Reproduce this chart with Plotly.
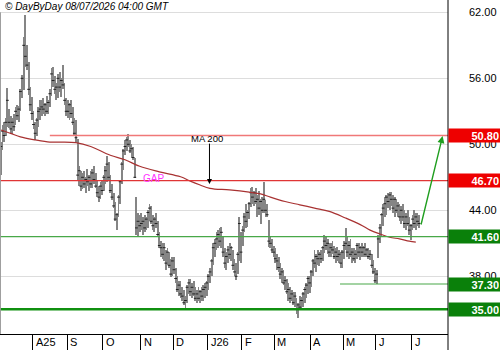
import plotly.graph_objects as go

# ---------------- data ----------------
month_labels = ["A25", "S", "O", "N", "D", "J26", "F", "M", "A", "M", "J", "J"]
# trading days shown per month: Jul-25 (partial), Aug ... Jun-26, Jul-26 (partial)
month_days = [20, 21, 22, 23, 20, 21, 21, 20, 22, 20, 20, 22, 5]

highs = [
    # Jul 25
    50.2, 51.8, 52.0, 52.4, 55.1, 53.2, 52.6, 52.4, 52.8, 53.4, 53.6, 53.5, 55.0, 56.3, 59.8, 61.8, 59.0, 57.5, 55.2, 54.3,
    # Aug
    53.0, 52.0, 52.4, 53.4, 54.0, 54.0, 54.2, 53.8, 54.4, 54.0, 55.0, 56.9, 57.0, 56.2, 55.6, 56.4, 56.6, 56.0, 57.2, 55.6, 54.2,
    # Sep
    54.0, 53.8, 54.0, 53.4, 52.4, 52.2, 50.5, 48.0, 47.6, 47.4, 47.6, 47.0, 47.8, 47.2, 47.6, 47.8, 48.0, 47.4, 46.8, 46.2, 46.6, 46.8,
    # Oct
    47.2, 48.0, 48.9, 48.4, 47.2, 46.4, 45.6, 44.8, 43.8, 45.4, 46.8, 48.4, 49.6, 50.4, 50.7, 50.9, 50.4, 50.0, 49.8, 48.8, 45.2, 43.8, 43.6,
    # Nov
    43.8, 43.4, 43.6, 43.4, 44.0, 44.6, 44.4, 43.6, 43.4, 43.8, 43.0, 42.0, 41.2, 41.0, 41.0, 40.4, 40.6, 40.2, 39.6, 39.8,
    # Dec
    39.8, 38.8, 38.0, 37.6, 37.6, 37.0, 36.8, 36.2, 37.2, 37.8, 37.8, 37.4, 37.6, 37.0, 36.8, 37.0, 36.8, 37.0, 37.2, 37.4, 37.6,
    # Jan 26
    38.2, 38.8, 39.6, 41.0, 41.4, 42.0, 42.2, 42.4, 42.5, 41.6, 40.6, 40.2, 40.8, 41.0, 40.8, 40.4, 39.6, 39.2, 40.2, 43.4, 42.0,
    # Feb
    42.6, 43.8, 44.6, 44.0, 44.8, 46.0, 46.1, 45.8, 46.0, 45.4, 45.8, 45.0, 45.2, 46.6, 44.9, 44.6, 43.1, 41.6, 41.4, 40.8,
    # Mar
    40.6, 40.0, 39.8, 39.2, 38.8, 38.6, 38.0, 37.8, 37.4, 37.0, 36.8, 36.6, 36.6, 36.0, 35.6, 36.2, 36.1, 36.6, 37.0, 37.4, 38.0, 38.0,
    # Apr
    38.6, 39.6, 40.4, 40.0, 40.4, 40.2, 40.4, 40.8, 41.8, 41.6, 41.4, 41.0, 41.0, 41.2, 40.8, 40.6, 40.7, 40.4, 40.2, 40.4,
    # May
    41.2, 42.4, 41.6, 41.2, 41.4, 40.6, 40.6, 40.4, 41.0, 41.0, 40.8, 41.0, 40.8, 41.0, 40.6, 40.6, 40.4, 40.0, 39.5, 38.8,
    # Jun
    38.6, 41.8, 42.8, 43.8, 44.6, 45.2, 45.4, 45.6, 45.7, 45.7, 45.4, 45.2, 45.0, 44.8, 44.6, 44.4, 44.6, 44.0, 43.8, 44.0, 43.4, 42.8,
    # Jul 26
    43.6, 44.0, 43.8, 43.8, 43.6,
]

lows = [
    47.2, 49.5, 50.2, 50.8, 51.6, 51.5, 51.0, 50.9, 51.2, 51.8, 52.2, 52.0, 53.0, 54.2, 54.9, 57.0, 56.8, 54.5, 53.0, 52.2,
    51.4, 50.4, 50.8, 51.6, 52.2, 52.6, 52.8, 52.6, 52.8, 52.8, 53.4, 54.4, 55.2, 54.6, 54.0, 54.2, 54.8, 54.3, 55.0, 53.6, 52.6,
    52.4, 52.2, 52.4, 51.8, 50.8, 50.2, 46.8, 46.2, 45.8, 45.9, 46.0, 45.6, 46.2, 45.8, 46.0, 46.0, 46.4, 46.0, 45.2, 44.8, 45.0, 45.4,
    45.8, 46.4, 46.6, 46.8, 45.6, 44.9, 44.2, 43.0, 42.2, 43.4, 44.6, 46.4, 47.7, 49.0, 49.4, 49.8, 49.2, 48.8, 48.6, 46.9, 41.8, 41.6, 42.0,
    42.2, 41.8, 42.0, 42.2, 42.4, 43.0, 42.8, 42.2, 42.0, 42.4, 41.6, 40.6, 39.8, 39.6, 39.4, 38.6, 39.0, 38.8, 37.9, 38.0,
    38.2, 37.4, 36.6, 36.2, 36.0, 35.8, 35.4, 35.0, 35.6, 36.4, 36.2, 36.0, 36.2, 35.8, 35.6, 35.8, 35.6, 35.8, 35.8, 36.0, 36.2,
    36.8, 37.4, 38.0, 39.0, 39.8, 40.4, 40.6, 40.8, 40.6, 39.8, 38.8, 38.6, 39.2, 39.6, 39.4, 38.6, 38.0, 37.7, 38.2, 39.4, 39.2,
    40.8, 42.0, 42.4, 42.5, 43.2, 44.3, 44.6, 44.4, 44.6, 43.4, 43.6, 42.8, 43.8, 43.8, 43.4, 43.4, 40.7, 40.6, 40.1, 39.8,
    39.2, 38.6, 38.4, 37.8, 37.4, 37.2, 36.8, 36.4, 35.8, 35.6, 35.8, 35.4, 35.2, 34.6, 34.2, 34.9, 35.0, 35.2, 35.6, 36.0, 36.4, 36.5,
    37.0, 38.0, 38.8, 38.4, 39.0, 38.9, 39.2, 39.4, 40.1, 40.4, 40.0, 39.8, 39.8, 40.0, 39.6, 39.2, 39.4, 39.2, 38.8, 38.8,
    39.6, 40.4, 39.8, 39.6, 39.8, 39.2, 39.4, 39.2, 39.6, 39.8, 39.5, 39.8, 39.8, 39.8, 39.8, 39.6, 39.5, 38.8, 38.2, 37.4,
    37.3, 39.7, 41.0, 41.6, 42.6, 43.4, 43.6, 44.2, 44.0, 44.4, 43.8, 43.4, 43.8, 43.4, 43.0, 42.8, 43.0, 42.4, 42.2, 42.6, 41.8, 41.3,
    42.2, 42.4, 42.2, 42.6, 42.4,
]

closes = [
    49.8, 51.2, 50.8, 52.0, 54.0, 52.0, 51.4, 52.0, 51.6, 53.0, 52.6, 53.2, 54.8, 56.0, 59.0, 58.0, 57.2, 55.0, 53.6, 52.8,
    51.8, 51.0, 52.2, 53.0, 53.2, 53.4, 53.2, 53.6, 53.0, 53.8, 54.6, 56.4, 55.8, 55.0, 55.2, 56.0, 55.2, 55.8, 55.4, 54.0, 53.0,
    53.0, 53.6, 52.8, 52.0, 51.0, 50.6, 47.2, 47.6, 46.2, 47.0, 46.4, 46.8, 46.6, 47.0, 46.4, 47.4, 46.8, 46.2, 45.6, 45.2, 46.2, 45.8,
    47.0, 47.6, 48.2, 47.0, 45.8, 45.2, 44.4, 43.2, 43.6, 45.2, 46.6, 48.2, 49.4, 49.8, 50.4, 50.0, 49.4, 49.6, 48.8, 47.0, 42.4, 43.0, 42.6,
    42.8, 43.0, 42.4, 43.2, 43.8, 44.2, 43.0, 42.6, 43.2, 42.8, 41.8, 40.8, 40.6, 40.0, 40.6, 39.2, 40.2, 39.0, 38.2, 39.4,
    38.6, 37.8, 36.8, 37.2, 36.4, 36.2, 35.6, 35.8, 37.0, 37.4, 36.6, 37.0, 36.4, 36.0, 36.4, 36.0, 36.6, 36.2, 36.8, 37.0, 37.4,
    38.0, 38.4, 39.4, 40.6, 41.0, 41.4, 41.8, 41.2, 42.0, 40.2, 39.2, 39.8, 40.4, 40.0, 40.6, 39.0, 38.4, 38.0, 40.0, 42.8, 40.2,
    42.2, 43.4, 43.0, 43.8, 44.6, 45.6, 45.2, 45.6, 44.8, 45.0, 44.2, 44.8, 44.0, 45.0, 44.0, 43.6, 41.2, 41.0, 40.4, 40.2,
    39.6, 39.4, 38.8, 38.2, 38.4, 37.4, 37.6, 36.6, 36.8, 36.0, 36.4, 35.6, 36.2, 35.0, 35.4, 35.2, 35.8, 36.4, 36.8, 37.2, 37.8, 37.4,
    38.4, 39.4, 39.2, 39.8, 39.6, 40.0, 39.6, 40.6, 41.2, 40.8, 41.0, 40.2, 40.6, 40.4, 39.8, 40.2, 39.8, 40.0, 39.2, 40.2,
    40.8, 41.0, 40.2, 40.8, 40.0, 40.2, 39.6, 40.0, 40.8, 40.2, 40.6, 40.2, 40.6, 40.0, 40.4, 39.8, 40.0, 39.0, 38.4, 37.6,
    38.2, 41.4, 42.4, 43.6, 44.2, 44.6, 45.2, 44.8, 45.4, 45.0, 44.2, 45.0, 44.0, 44.4, 43.4, 44.0, 43.4, 42.8, 43.4, 42.8, 42.2, 42.6,
    43.2, 42.8, 43.4, 43.0, 42.8,
]

# 200-day moving average (trading-day index, value)
ma_idx = [0, 6, 12, 21, 30, 36, 46, 55, 67, 76, 85, 97, 110, 116, 122, 128, 140, 152, 159, 165,
          174, 183, 192, 201, 211, 220, 226, 232, 238, 244, 250, 254]
ma_vals = [51.3, 51.0, 50.67, 50.4, 50.2, 50.2, 50.15, 49.8, 49.0, 48.6, 48.0, 47.5, 47.05, 46.65, 46.3, 46.0,
           45.85, 45.65, 45.5, 45.2, 44.8, 44.5, 44.2, 43.9, 43.3, 42.7, 42.2, 41.85, 41.55, 41.4, 41.2, 41.1]

level_values = [50.80, 46.70, 41.60, 37.30, 35.00]
level_kinds = ["res", "res", "sup", "sup", "sup"]
y_ticks = [38, 44, 50, 56, 62]
header = "© DayByDay 08/07/2026 04:00 GMT"

# ---------------- figure ----------------
FONT = "Liberation Sans, Arial, sans-serif"
idx = list(range(len(closes)))

bounds = []
acc = 0
for d in month_days[:-1]:
    acc += d
    bounds.append(acc - 0.5)

fig = go.Figure()

fig.add_trace(go.Bar(
    x=idx, base=lows, y=[h - l for h, l in zip(highs, lows)],
    width=0.55, marker=dict(color="#858585", line=dict(width=0)),
    hoverinfo="skip"))
fig.add_trace(go.Scatter(
    x=idx, y=closes, mode="markers",
    marker=dict(symbol="line-ew", size=2, line=dict(width=1, color="#222222")),
    hoverinfo="skip"))
fig.add_trace(go.Scatter(
    x=ma_idx, y=ma_vals, mode="lines", line=dict(color="#a83232", width=1.2, shape="spline"),
    hoverinfo="skip"))

level_style = {
    50.80: dict(color="#f07878", width=1.3, x0=30),
    46.70: dict(color="#e03535", width=1.2, x0=-0.5),
    41.60: dict(color="#48a848", width=1.2, x0=-0.5),
    37.30: dict(color="#48a848", width=1.2, x0=207.6),
    35.00: dict(color="#109010", width=2.6, x0=-0.5),
}
for v in level_values:
    st = level_style[v]
    fig.add_shape(type="line", xref="x", yref="y", x0=st["x0"], x1=274, y0=v, y1=v,
                  line=dict(color=st["color"], width=st["width"]), layer="above")

annotations = []
for v, k in zip(level_values, level_kinds):
    annotations.append(dict(
        xref="paper", yref="y", x=1, y=v, xanchor="left", yanchor="middle",
        text="<b>%.2f</b>" % v, showarrow=False, align="right", width=49, height=11,
        borderpad=1, bgcolor="#ee0000" if k == "res" else "#0a800a",
        font=dict(family=FONT, size=11, color="white")))

for b, lab in zip(bounds, month_labels):
    annotations.append(dict(
        xref="x", yref="paper", x=b, y=-7.5 / 334, xanchor="left", yanchor="middle",
        xshift=1, text=lab, showarrow=False, font=dict(family=FONT, size=11, color="black")))

annotations.append(dict(
    xref="paper", yref="paper", x=0, y=1 - 6.5 / 334, xanchor="left", yanchor="middle",
    xshift=3, text="<i>" + header + "</i>", showarrow=False,
    font=dict(family=FONT, size=10, color="black")))

annotations.append(dict(
    xref="x", yref="y", x=126.2, y=50.57, text="MA 200", showarrow=False,
    font=dict(family=FONT, size=9.5, color="black")))
annotations.append(dict(
    xref="x", yref="y", x=127.7, y=46.4, axref="x", ayref="y", ax=127.7, ay=50.2,
    text="", showarrow=True, arrowhead=2, arrowsize=1, arrowwidth=1, arrowcolor="black"))
annotations.append(dict(
    xref="x", yref="y", x=93.4, y=46.85, text="GAP", showarrow=False,
    font=dict(family=FONT, size=10, color="#ff33ff")))
annotations.append(dict(
    xref="x", yref="y", x=270.4, y=50.75, axref="x", ayref="y", ax=257.0, ay=42.57,
    text="", showarrow=True, arrowhead=2, arrowsize=1, arrowwidth=1.4, arrowcolor="#1f9e1f"))

fig.add_shape(type="line", xref="paper", yref="paper", x0=1, x1=1, y0=-16 / 334, y1=1,
              line=dict(color="black", width=1))
fig.add_shape(type="line", xref="paper", yref="y", x0=0.001, x1=0.001, y0=32.76, y1=62,
              line=dict(color="#999999", width=1))

fig.update_layout(
    width=500, height=350,
    margin=dict(l=0, r=52, t=0, b=16),
    plot_bgcolor="white", paper_bgcolor="white",
    showlegend=False, bargap=0,
    annotations=annotations,
    xaxis=dict(range=[-0.51, 273.7], showgrid=False, zeroline=False,
               tickmode="array", tickvals=bounds, ticks="outside", ticklen=16,
               tickcolor="black", tickwidth=1, showticklabels=False,
               showline=True, linecolor="black", linewidth=1,
               rangeslider=dict(visible=False), fixedrange=True),
    yaxis=dict(side="right", range=[32.755, 63.12], tickmode="array", tickvals=y_ticks,
               ticktext=["%.2f" % t for t in y_ticks], showgrid=True, gridcolor="#dddddd",
               gridwidth=1, zeroline=False, showline=False, ticks="",
               ticklabelstandoff=20, tickfont=dict(family=FONT, size=11, color="black"),
               fixedrange=True),
)

fig.write_html("out.html")
